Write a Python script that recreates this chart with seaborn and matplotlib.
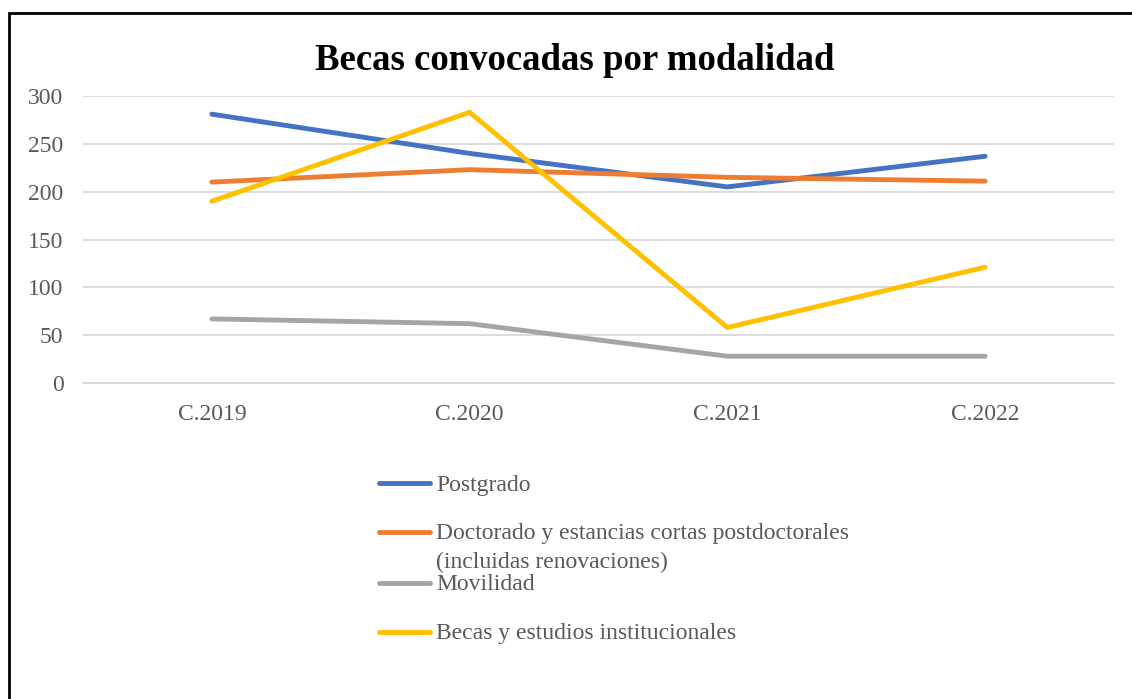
import pandas as pd
import matplotlib.pyplot as plt
import seaborn as sns
from matplotlib.patches import Rectangle

# data
convocatorias = ["C.2019", "C.2020", "C.2021", "C.2022"]
postgrado = [281, 240, 205, 237]
doctorado = [210, 223, 215, 211]
movilidad = [67, 62, 28, 28]
becas_inst = [190, 283, 58, 121]

series_names = [
    "Postgrado",
    "Doctorado y estancias cortas postdoctorales\n(incluidas renovaciones)",
    "Movilidad",
    "Becas y estudios institucionales",
]
colors = ["#4472C4", "#ED7D31", "#A5A5A5", "#FFC000"]

df = pd.DataFrame({
    "conv": convocatorias * 4,
    "valor": postgrado + doctorado + movilidad + becas_inst,
    "serie": [s for s in series_names for _ in convocatorias],
})

sns.set_style("white")
plt.rcParams["font.family"] = ["Liberation Serif", "DejaVu Serif"]

W, H = 1132, 699
fig = plt.figure(figsize=(W / 100, H / 100), dpi=100)
ax = fig.add_axes([83 / W, 1 - 383 / H, (1114 - 83) / W, (383 - 96) / H])

sns.lineplot(data=df, x="conv", y="valor", hue="serie", palette=colors,
             linewidth=3.5, sort=False, legend=False, ax=ax)
for ln in ax.get_lines():
    ln.set_solid_capstyle("round")
    ln.set_solid_joinstyle("miter")

ax.set_xlim(-0.5, 3.5)
ax.set_ylim(0, 300)
ax.set_yticks(range(0, 301, 50))
ax.yaxis.grid(True, color="#D9D9D9", linewidth=1.3)
ax.set_axisbelow(True)
for side in ["left", "right", "top"]:
    ax.spines[side].set_visible(False)
ax.spines["bottom"].set_color("#D9D9D9")
ax.spines["bottom"].set_linewidth(1.3)
ax.tick_params(axis="y", length=0, labelsize=17, labelcolor="#595959", pad=14)
ax.tick_params(axis="x", length=0, labelsize=17, labelcolor="#595959", pad=15)
ax.set_xlabel("")
ax.set_ylabel("")

fig.text(0.508, 1 - 60 / H, "Becas convocadas por modalidad", ha="center", va="center",
         fontsize=26.5, fontweight="bold", color="black")

# legend below the plot, drawn by hand so the handle sits on the first text line
legend_y = [483, 532, 583, 632]
for name, c, y in zip(series_names, colors, legend_y):
    fig.add_artist(plt.Line2D([379 / W, 430 / W], [1 - y / H, 1 - y / H],
                              color=c, linewidth=3.5, solid_capstyle="round",
                              transform=fig.transFigure))
    for i, part in enumerate(name.split("\n")):
        fig.text(436 / W, 1 - (y + 2 + 28 * i) / H, part, ha="left", va="center",
                 fontsize=17, color="#595959")

# outer border
fig.add_artist(Rectangle((8.5 / W, -0.1), 1.2, 1 - 13 / H + 0.1,
                         transform=fig.transFigure, fill=False,
                         edgecolor="black", linewidth=2))

fig.savefig("out.png", dpi=100)
